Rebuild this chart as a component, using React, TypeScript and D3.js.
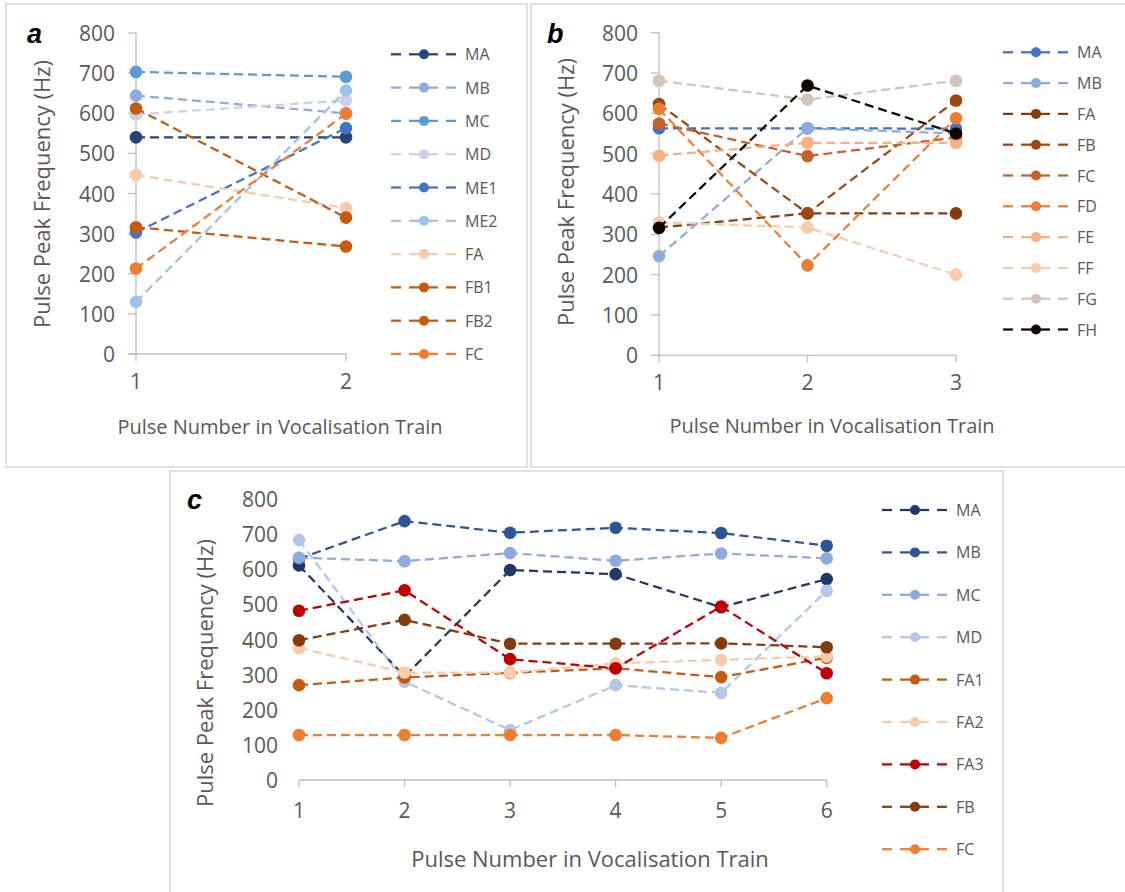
import React from "react";
import * as d3 from "d3";

// ---------- Data ----------
const yTickValues = [0, 100, 200, 300, 400, 500, 600, 700, 800];

// Panel a
const catsA = [1, 2];
const namesA = ["MA", "MB", "MC", "MD", "ME1", "ME2", "FA", "FB1", "FB2", "FC"];
const valuesA = [
  [540, 540],
  [644, 600],
  [703, 691],
  [597, 632],
  [303, 563],
  [130, 657],
  [446, 364],
  [612, 340],
  [316, 268],
  [213, 599],
];
const colorsA = ["#264478", "#8faadc", "#5b9bd5", "#c9d2e4", "#4472c4", "#9dc3e6", "#f8cbad", "#c55a11", "#c55a11", "#ed7d31"];

// Panel b
const catsB = [1, 2, 3];
const namesB = ["MA", "MB", "FA", "FB", "FC", "FD", "FE", "FF", "FG", "FH"];
const valuesB = [
  [563, 563, 562],
  [246, 563, 550],
  [317, 352, 352],
  [623, 352, 632],
  [575, 494, 540],
  [611, 223, 588],
  [495, 527, 527],
  [330, 317, 200],
  [681, 634, 681],
  [316, 669, 550],
];
const colorsB = ["#4472c4", "#8faadc", "#843c0c", "#9e480e", "#c5622a", "#ed7d31", "#f4b183", "#f8cbad", "#d0c4bc", "#110700"];

// Panel c
const catsC = [1, 2, 3, 4, 5, 6];
const namesC = ["MA", "MB", "MC", "MD", "FA1", "FA2", "FA3", "FB", "FC"];
const valuesC = [
  [611, 295, 598, 586, 492, 572],
  [630, 737, 704, 718, 703, 667],
  [633, 623, 646, 624, 645, 631],
  [683, 280, 142, 270, 248, 539],
  [270, 292, 305, 318, 293, 348],
  [376, 306, 306, 332, 342, 352],
  [482, 540, 344, 318, 494, 304],
  [398, 456, 388, 388, 389, 378],
  [128, 128, 128, 128, 120, 233],
];
const colorsC = ["#203864", "#2f5597", "#8faadc", "#b4c7e7", "#c55a11", "#f8cbad", "#c00000", "#843c0c", "#ed7d31"];

const yTitle = "Pulse Peak Frequency (Hz)";
const xTitle = "Pulse Number in Vocalisation Train";

const FONT = "'Open Sans', 'Noto Sans', sans-serif";
const TXT = "#595959";
const AXIS = "#bfbfbf";

type Layout = {
  box: [number, number, number, number];
  x0: number; x1: number; yb: number; yt: number;
  yAxisLine: boolean;
  letter: string; letterX: number; letterY: number;
  yTitleX: number; yTitleY: number;
  xTitleX: number; xTitleY: number; xTitleSize: number;
  xLabOff: number;
  legX: number; legY: number; legStep: number;
};

function Panel({ cats, names, values, colors, L }: { cats: number[]; names: string[]; values: number[][]; colors: string[]; L: Layout }) {
  const x = d3.scaleLinear().domain([cats[0], cats[cats.length - 1]]).range([L.x0, L.x1]);
  const y = d3.scaleLinear().domain([0, 800]).range([L.yb, L.yt]);
  const line = d3
    .line<number>()
    .x((_, i) => x(cats[i]))
    .y((d) => y(d));
  const [bx0, by0, bx1, by1] = L.box;
  return (
    <g>
      <rect x={bx0} y={by0} width={bx1 - bx0} height={by1 - by0} fill="#fff" stroke="#d9d9d9" strokeWidth={1.5} />
      {/* axes */}
      {L.yAxisLine && (
        <g>
          <line x1={L.x0} x2={L.x0} y1={y(0)} y2={y(800)} stroke={AXIS} strokeWidth={1.3} />
          {yTickValues.map((t) => (
            <line key={t} x1={L.x0 - 8} x2={L.x0} y1={y(t)} y2={y(t)} stroke={AXIS} strokeWidth={1.3} />
          ))}
        </g>
      )}
      <line x1={L.yAxisLine ? L.x0 - 8 : L.x0} x2={L.x1} y1={y(0)} y2={y(0)} stroke={AXIS} strokeWidth={1.3} />
      {cats.map((c) => (
        <line key={c} x1={x(c)} x2={x(c)} y1={y(0)} y2={y(0) + 7} stroke={AXIS} strokeWidth={1.3} />
      ))}
      {yTickValues.map((t) => (
        <text key={t} x={L.x0 - 21} y={y(t)} textAnchor="end" dominantBaseline="central" fontFamily={FONT} fontSize={21} fill={TXT}>
          {t}
        </text>
      ))}
      {cats.map((c) => (
        <text key={c} x={x(c)} y={y(0) + L.xLabOff} textAnchor="middle" dominantBaseline="central" fontFamily={FONT} fontSize={21} fill={TXT}>
          {c}
        </text>
      ))}
      <text
        transform={`translate(${L.yTitleX},${L.yTitleY}) rotate(-90)`}
        textAnchor="middle"
        dominantBaseline="central"
        fontFamily={FONT}
        fontSize={22}
        fill={TXT}
      >
        {yTitle}
      </text>
      <text x={L.xTitleX} y={L.xTitleY} textAnchor="middle" dominantBaseline="central" fontFamily={FONT} fontSize={L.xTitleSize} fill={TXT}>
        {xTitle}
      </text>
      <text x={L.letterX} y={L.letterY} fontFamily="'Liberation Sans', Arial, sans-serif" fontWeight="bold" fontStyle="italic" fontSize={27} fill="#000">
        {L.letter}
      </text>
      {/* series */}
      {values.map((vals, si) => (
        <g key={names[si]}>
          <path d={line(vals) || ""} fill="none" stroke={colors[si]} strokeWidth={2.25} strokeDasharray="9,5" />
          {vals.map((v, i) => (
            <circle key={i} cx={x(cats[i])} cy={y(v)} r={6.3} fill={colors[si]} />
          ))}
        </g>
      ))}
      {/* legend */}
      {names.map((n, i) => {
        const ly = L.legY + i * L.legStep;
        const lx = L.legX;
        return (
          <g key={n}>
            <line x1={lx} x2={lx + 10} y1={ly} y2={ly} stroke={colors[i]} strokeWidth={2.25} />
            <line x1={lx + 18} x2={lx + 47} y1={ly} y2={ly} stroke={colors[i]} strokeWidth={2.25} />
            <line x1={lx + 55} x2={lx + 65} y1={ly} y2={ly} stroke={colors[i]} strokeWidth={2.25} />
            <circle cx={lx + 33} cy={ly} r={5} fill={colors[i]} />
            <text x={lx + 74} y={ly} dominantBaseline="central" fontFamily={FONT} fontSize={16} fill={TXT}>
              {n}
            </text>
          </g>
        );
      })}
    </g>
  );
}

const layoutA: Layout = {
  box: [6, 4, 527, 467],
  x0: 136, x1: 346, yb: 354, yt: 33,
  yAxisLine: true,
  letter: "a", letterX: 27, letterY: 43,
  yTitleX: 41, yTitleY: 194,
  xTitleX: 280, xTitleY: 426, xTitleSize: 20,
  xLabOff: 27,
  legX: 391, legY: 54.3, legStep: 33.3,
};

const layoutB: Layout = {
  box: [531, 4, 1135, 467],
  x0: 659, x1: 956, yb: 355.3, yt: 32.7,
  yAxisLine: true,
  letter: "b", letterX: 547, letterY: 43,
  yTitleX: 565, yTitleY: 192,
  xTitleX: 832, xTitleY: 425, xTitleSize: 20,
  xLabOff: 27,
  legX: 1003, legY: 52.3, legStep: 30.8,
};

const layoutC: Layout = {
  box: [170, 471, 1003, 900],
  x0: 299, x1: 826.7, yb: 780, yt: 499,
  yAxisLine: false,
  letter: "c", letterX: 187, letterY: 509,
  yTitleX: 204, yTitleY: 673,
  xTitleX: 590, xTitleY: 858, xTitleSize: 22,
  xLabOff: 30,
  legX: 882, legY: 510, legStep: 42.4,
};

export default function App() {
  return (
    <div style={{ position: "fixed", left: 0, top: 0 }}>
      <svg width={1125} height={892} style={{ display: "block", background: "#fff" }}>
        <rect x={0} y={0} width={1125} height={892} fill="#fff" />
        <Panel cats={catsA} names={namesA} values={valuesA} colors={colorsA} L={layoutA} />
        <Panel cats={catsB} names={namesB} values={valuesB} colors={colorsB} L={layoutB} />
        <Panel cats={catsC} names={namesC} values={valuesC} colors={colorsC} L={layoutC} />
      </svg>
    </div>
  );
}
